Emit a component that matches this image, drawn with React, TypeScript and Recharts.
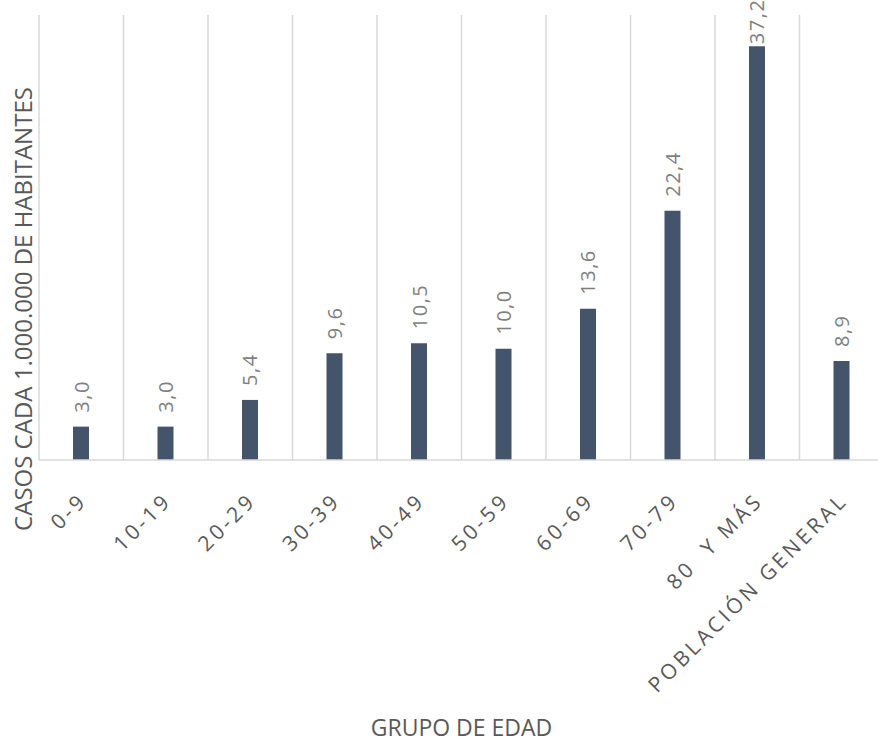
import React from 'react';
import { BarChart, Bar, XAxis, YAxis, CartesianGrid, LabelList, Label } from 'recharts';

const grupos = ['0-9', '10-19', '20-29', '30-39', '40-49', '50-59', '60-69', '70-79', '80  Y MÁS', 'POBLACIÓN GENERAL'];
const casos = [3.0, 3.0, 5.4, 9.6, 10.5, 10.0, 13.6, 22.4, 37.2, 8.9];
const yDomain = [0, 40];

const data = grupos.map((g, i) => ({ grupo: g, casos: casos[i] }));

const FONT = '"Open Sans", "Liberation Sans", sans-serif';

const AgeTick = (props: any) => {
  const { x, y, payload } = props;
  return (
    <text
      x={x + 7}
      y={y + 34}
      transform={`rotate(-45, ${x + 7}, ${y + 34})`}
      textAnchor="end"
      fill="#595959"
      fontSize={21}
      fontFamily={FONT}
      letterSpacing={3.3}
      style={{ whiteSpace: 'pre' }}
    >
      {payload.value}
    </text>
  );
};

const ValueLabel = (props: any) => {
  const { x, y, width, value } = props;
  const cx = x + width / 2;
  const ty = y - 14 < 45 ? y - 2 : y - 14;
  return (
    <text
      x={cx}
      y={ty}
      transform={`rotate(-90, ${cx}, ${ty})`}
      textAnchor="start"
      dominantBaseline="central"
      fill="#7f7f7f"
      fontSize={20}
      fontFamily={FONT}
      letterSpacing={1.5}
    >
      {Number(value).toFixed(1).replace('.', ',')}
    </text>
  );
};

export default function App() {
  return (
    <div style={{ position: 'absolute', left: 0, top: 0, width: 878, height: 742, overflow: 'hidden', background: '#fff' }}>
      <BarChart
        width={884}
        height={742}
        data={data}
        margin={{ top: 15, right: 0, left: 39, bottom: 0 }}
      >
        <CartesianGrid
          horizontal={false}
          stroke="#d9d9d9"
          strokeWidth={1.5}
          verticalCoordinatesGenerator={({ offset }: any) =>
            grupos.map((_, i) => offset.left + (i * offset.width) / grupos.length)
          }
        />
        <XAxis
          dataKey="grupo"
          interval={0}
          tickLine={false}
          axisLine={{ stroke: '#d9d9d9', strokeWidth: 1.5 }}
          tick={<AgeTick />}
          height={282}
        >
          <Label
            value="GRUPO DE EDAD"
            position="insideBottom"
            offset={6}
            fill="#595959"
            fontSize={23}
            fontFamily={FONT}
          />
        </XAxis>
        <YAxis hide domain={yDomain} />
        <Bar dataKey="casos" fill="#44546a" barSize={16} isAnimationActive={false}>
          <LabelList dataKey="casos" content={<ValueLabel />} />
        </Bar>
        <text
          x={22}
          y={309}
          transform="rotate(-90, 22, 309)"
          textAnchor="middle"
          dominantBaseline="central"
          fill="#595959"
          fontSize={24}
          fontFamily={FONT}
        >
          CASOS CADA 1.000.000 DE HABITANTES
        </text>
      </BarChart>
    </div>
  );
}
